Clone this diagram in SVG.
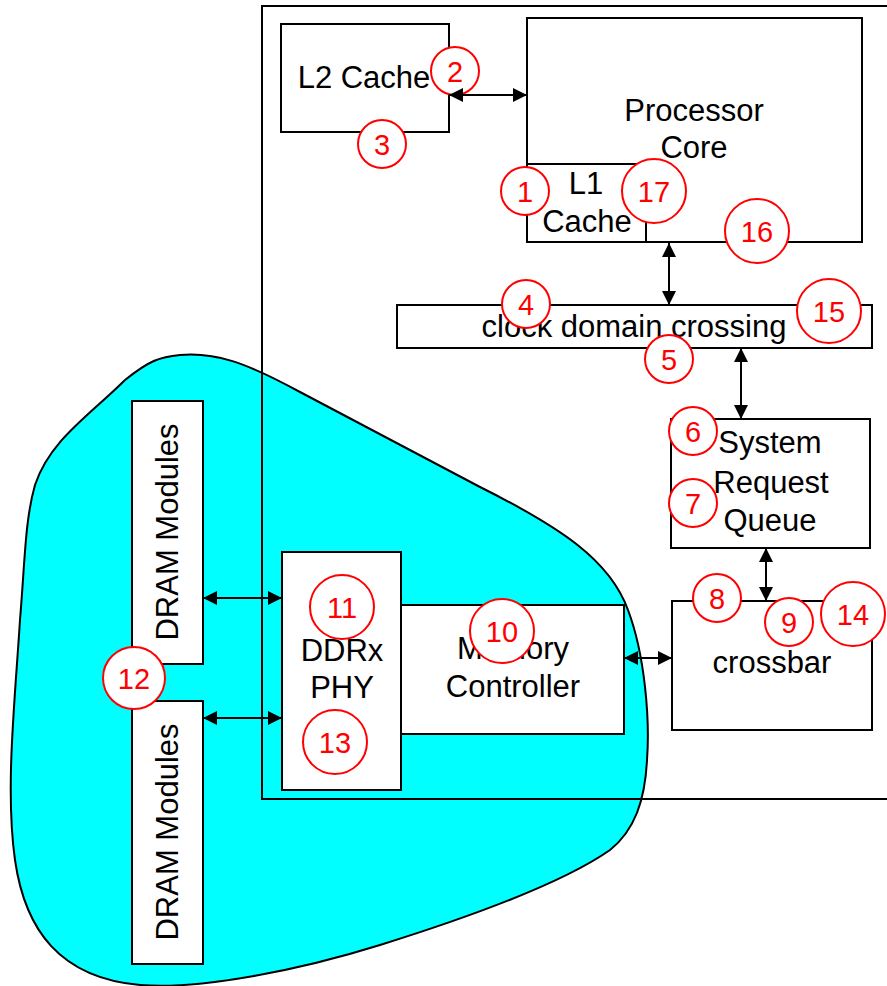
<svg xmlns="http://www.w3.org/2000/svg" width="887" height="986" viewBox="0 0 887 986">
<style>
.box{fill:#fff;stroke:#000;stroke-width:2}
.lbl{font-family:"Liberation Sans",Arial,sans-serif;font-size:31px;fill:#000;text-anchor:middle}
.num circle{fill:#fff;stroke:#f00;stroke-width:2}
.num text{font-family:"Liberation Sans",Arial,sans-serif;font-size:29px;fill:#f00;text-anchor:middle}
.conn line{stroke:#000;stroke-width:2;marker-start:url(#ah);marker-end:url(#ah)}
</style>
<defs>
<marker id="ah" viewBox="0 0 14 14" refX="14" refY="7" markerWidth="14" markerHeight="14" markerUnits="userSpaceOnUse" orient="auto-start-reverse">
<path d="M0,0 L14,7 L0,14 z" fill="#000"/>
</marker>
</defs>
<rect width="887" height="986" fill="#fff"/>
<g id="memory-region">
<path d="M180,355 C215,352 245,362 300,392 L480,487 C560,527 610,560 628,610 C645,655 650,720 647,760 C645,800 635,830 610,850 C560,885 460,920 380,945 C300,970 200,990 140,985 C60,978 25,930 15,860 C5,790 15,700 20,620 C25,560 25,520 35,485 C50,440 90,415 125,380 C150,360 160,357 180,355 Z" fill="#00ffff" stroke="#000" stroke-width="2"/>
</g>
<g id="chip">
<rect x="262" y="6" width="700" height="793" fill="none" stroke="#000" stroke-width="2"/>
</g>
<g id="l2-cache">
<rect class="box" x="281" y="24" width="168" height="108"/>
<text class="lbl" x="364" y="88">L2 Cache</text>
</g>
<g id="processor-core">
<rect class="box" x="527" y="18" width="335" height="224"/>
<text class="lbl" x="694" y="121">Processor</text>
<text class="lbl" x="694" y="158">Core</text>
</g>
<g id="l1-cache">
<rect class="box" x="527" y="164" width="119" height="78"/>
<text class="lbl" x="586" y="194">L1</text>
<text class="lbl" x="587" y="232">Cache</text>
</g>
<g id="clock-domain-crossing">
<rect class="box" x="397" y="305" width="475" height="43"/>
<text class="lbl" x="634" y="337">clock domain crossing</text>
</g>
<g id="system-request-queue">
<rect class="box" x="671" y="419" width="199" height="129"/>
<text class="lbl" x="770" y="453">System</text>
<text class="lbl" x="771" y="493">Request</text>
<text class="lbl" x="770" y="531">Queue</text>
</g>
<g id="crossbar">
<rect class="box" x="672" y="601" width="200" height="129"/>
<text class="lbl" x="772" y="673">crossbar</text>
</g>
<g id="memory-controller">
<rect class="box" x="401" y="605" width="223" height="129"/>
<text class="lbl" x="513" y="659">Memory</text>
<text class="lbl" x="513" y="697">Controller</text>
</g>
<g id="ddrx-phy">
<rect class="box" x="282" y="552" width="119" height="238"/>
<text class="lbl" x="342" y="661">DDRx</text>
<text class="lbl" x="342" y="698">PHY</text>
</g>
<g id="dram-modules-1">
<rect class="box" x="132" y="401" width="71" height="263"/>
<text class="lbl" transform="translate(178,532) rotate(-90)">DRAM Modules</text>
</g>
<g id="dram-modules-2">
<rect class="box" x="132" y="701" width="71" height="263"/>
<text class="lbl" transform="translate(178,832) rotate(-90)">DRAM Modules</text>
</g>
<g id="markers" class="num">
<g id="m1"><circle cx="525" cy="191" r="24"/><text x="525" y="202">1</text></g>
<g id="m2"><circle cx="455" cy="71" r="24"/><text x="455" y="82">2</text></g>
<g id="m3"><circle cx="382" cy="144" r="24"/><text x="382" y="155">3</text></g>
<g id="m4"><circle cx="526" cy="304" r="24"/><text x="526" y="315">4</text></g>
<g id="m5"><circle cx="669" cy="359" r="24"/><text x="669" y="370">5</text></g>
<g id="m6"><circle cx="693" cy="431" r="24"/><text x="693" y="442">6</text></g>
<g id="m7"><circle cx="693" cy="503" r="24"/><text x="693" y="514">7</text></g>
<g id="m8"><circle cx="717" cy="598" r="24"/><text x="717" y="609">8</text></g>
<g id="m9"><circle cx="789" cy="622" r="24"/><text x="789" y="633">9</text></g>
<g id="m10"><circle cx="502" cy="631" r="32"/><text x="502" y="642">10</text></g>
<g id="m11"><circle cx="342" cy="607" r="32"/><text x="342" y="618">11</text></g>
<g id="m12"><circle cx="134" cy="678" r="31"/><text x="134" y="689">12</text></g>
<g id="m13"><circle cx="335" cy="742" r="32"/><text x="335" y="753">13</text></g>
<g id="m14"><circle cx="853" cy="614" r="32"/><text x="853" y="625">14</text></g>
<g id="m15"><circle cx="829" cy="311" r="32"/><text x="829" y="322">15</text></g>
<g id="m16"><circle cx="757" cy="231" r="32"/><text x="757" y="242">16</text></g>
<g id="m17"><circle cx="654" cy="191" r="32"/><text x="654" y="202">17</text></g>
</g>
<g id="connectors" class="conn">
<line x1="449" y1="95" x2="527" y2="95"/>
<line x1="669" y1="243" x2="669" y2="305"/>
<line x1="741" y1="348" x2="741" y2="419"/>
<line x1="766" y1="548" x2="766" y2="601"/>
<line x1="624" y1="658" x2="672" y2="658"/>
<line x1="203" y1="598" x2="282" y2="598"/>
<line x1="203" y1="718" x2="282" y2="718"/>
</g>
</svg>
